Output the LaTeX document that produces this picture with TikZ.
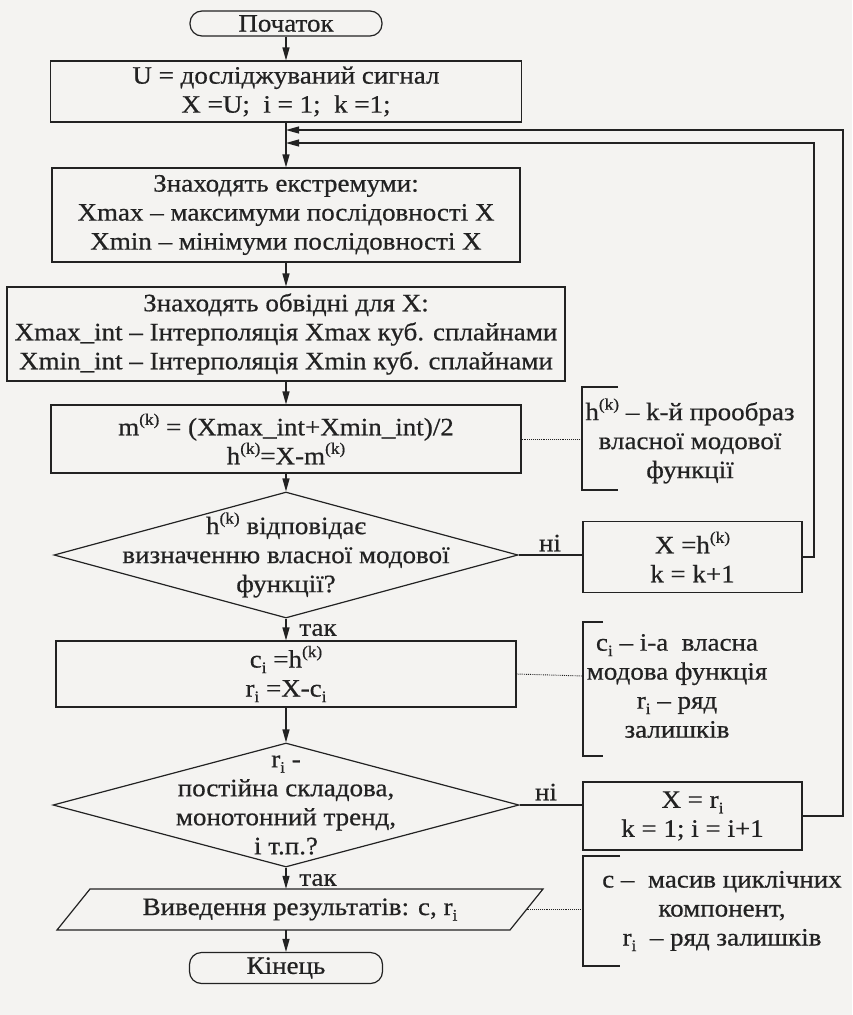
\documentclass[tikz,border=0pt]{standalone}
\usepackage{fontspec}
\setmainfont{Liberation Serif}[FakeStretch=1.08,FakeBold=0.6]
\usetikzlibrary{shapes.geometric,arrows.meta,calc}
\definecolor{ink}{HTML}{222222}
\definecolor{paper}{HTML}{F4F3F1}
\newcommand\mysup[1]{\raisebox{0.42em}{\fontsize{16}{16}\selectfont #1}}
\newcommand\mysub[1]{\raisebox{-0.22em}{\fontsize{16}{16}\selectfont #1}}
\begin{document}
\begin{tikzpicture}[x=1pt,y=-1pt,
  every node/.style={font=\fontsize{25}{29}\selectfont, text=ink},
  box/.style={draw=ink, line width=1.2, inner sep=0, align=center, rectangle},
  term/.style={draw=ink, line width=1.2, inner sep=0, rounded corners=12},
  dia/.style={draw=ink, line width=1.2, diamond, inner sep=0},
  lbl/.style={inner sep=0, align=center},
  link/.style={draw=ink, line width=1.2},
  arr/.style={link, -{Triangle[length=13,width=7]}},
  dotln/.style={draw=ink, line width=0.9, densely dotted},
  brk/.style={draw=ink, line width=1.2},
]
\fill[paper] (0,0) rectangle (852,1015);
\useasboundingbox (0,0) rectangle (852,1015);

% main column
\node[term, minimum width=192, minimum height=25] (start) at (286,23.5) {Початок};
\node[box, minimum width=471, minimum height=61] (b1) at (286,91.5) {U = досліджуваний сигнал\\X =U;\ \ i = 1;\ \ k =1;};
\coordinate (j1) at (286,130);
\coordinate (j2) at (286,143);
\node[box, minimum width=468, minimum height=94] (b2) at (286,215) {Знаходять екстремуми:\\Xmax – максимуми послідовності X\\Xmin – мінімуми послідовності X};
\node[box, minimum width=558, minimum height=94] (b3) at (286,334) {Знаходять обвідні для X:\\Xmax\_int – Інтерполяція Xmax куб. сплайнами\\Xmin\_int – Інтерполяція Xmin куб. сплайнами};
\node[box, minimum width=470, minimum height=68] (b4) at (286,439) {m\mysup{(k)} = (Xmax\_int+Xmin\_int)/2\\h\mysup{(k)}=X-m\mysup{(k)}};
\node[dia, minimum width=464, minimum height=126] (d1) at (286,555) {};
\node[lbl] (d1t) at (d1.center) {h\mysup{(k)} відповідає\\визначенню власної модової\\функції?};
\node[box, minimum width=219, minimum height=71] (xh) at (692.5,557) {X =h\mysup{(k)}\\k = k+1};
\node[lbl] (no1) at (550,543) {ні};
\node[box, minimum width=460, minimum height=66] (b5) at (286,674) {c\mysub{i} =h\mysup{(k)}\\r\mysub{i} =X-c\mysub{i}};
\node[lbl] (yes1) at (318,630) {так};
\node[dia, minimum width=466, minimum height=124] (d2) at (286,805) {};
\node[lbl] (d2t) at (d2.center) {r\mysub{i} -\\постійна складова,\\монотонний тренд,\\і т.п.?};
\node[box, minimum width=219, minimum height=68] (xr) at (692.5,816) {X = r\mysub{i}\\k = 1;\ i = i+1};
\node[lbl] (no2) at (546,792) {ні};
\node[lbl] (yes2) at (318,880) {так};
\draw[link] (57,930) -- (90,889) -- (543,889) -- (510,930) -- cycle;
\node[lbl, minimum height=41, minimum width=420] (out) at (300,909.5) {Виведення результатів: c, r\mysub{i}};
\coordinate (outR) at (526.5,909.5);
\node[term, minimum width=193, minimum height=31] (end) at (286,968) {Кінець};

% connectors
\draw[arr] (start) -- (b1);
\draw[arr] (b1) -- (b2);
\draw[arr] (b2) -- (b3);
\draw[arr] (b3) -- (b4);
\draw[arr] (b4) -- (d1);
\draw[arr] (d1) -- (b5);
\draw[arr] (b5) -- (d2);
\draw[arr] (d2.south) -- (d2.south |- out.north);
\draw[arr] (end.north |- out.south) -- (end.north);
\draw[link] (d1.east) -- (d1.east -| xh.west);
\draw[link] (d2.east) -- (d2.east -| xr.west);
\coordinate (r1) at (814,143);
\coordinate (r2) at (843,130);
\draw[arr] (xh.east) -| (r1) -- (j2);
\draw[arr] (xr.east) -| (r2) -- (j1);

% annotations
\coordinate (a1b) at (582,439);
\draw[brk] (618,387) -- (582,387) -- (582,490) -- (618,490);
\node[lbl] (a1) at (690,441) {h\mysup{(k)} – k-й прообраз\\власної модової\\функції};
\draw[dotln] (b4.east) -- (a1b);

\coordinate (a2b) at (583,676);
\draw[brk] (603,622) -- (583,622) -- (583,756) -- (603,756);
\node[lbl] (a2) at (677,686) {c\mysub{i} – i-a\ \ власна\\модова функція\\r\mysub{i} – ряд\\залишків};
\draw[dotln] (b5.east) -- (a2b);

\coordinate (a3b) at (583,909.5);
\draw[brk] (620,856) -- (583,856) -- (583,966) -- (620,966);
\node[lbl] (a3) at (722,911) {c –\ \ масив циклічних\\компонент,\\r\mysub{i}\ \ – ряд залишків};
\draw[dotln] (outR) -- (a3b);
\end{tikzpicture}
\end{document}
